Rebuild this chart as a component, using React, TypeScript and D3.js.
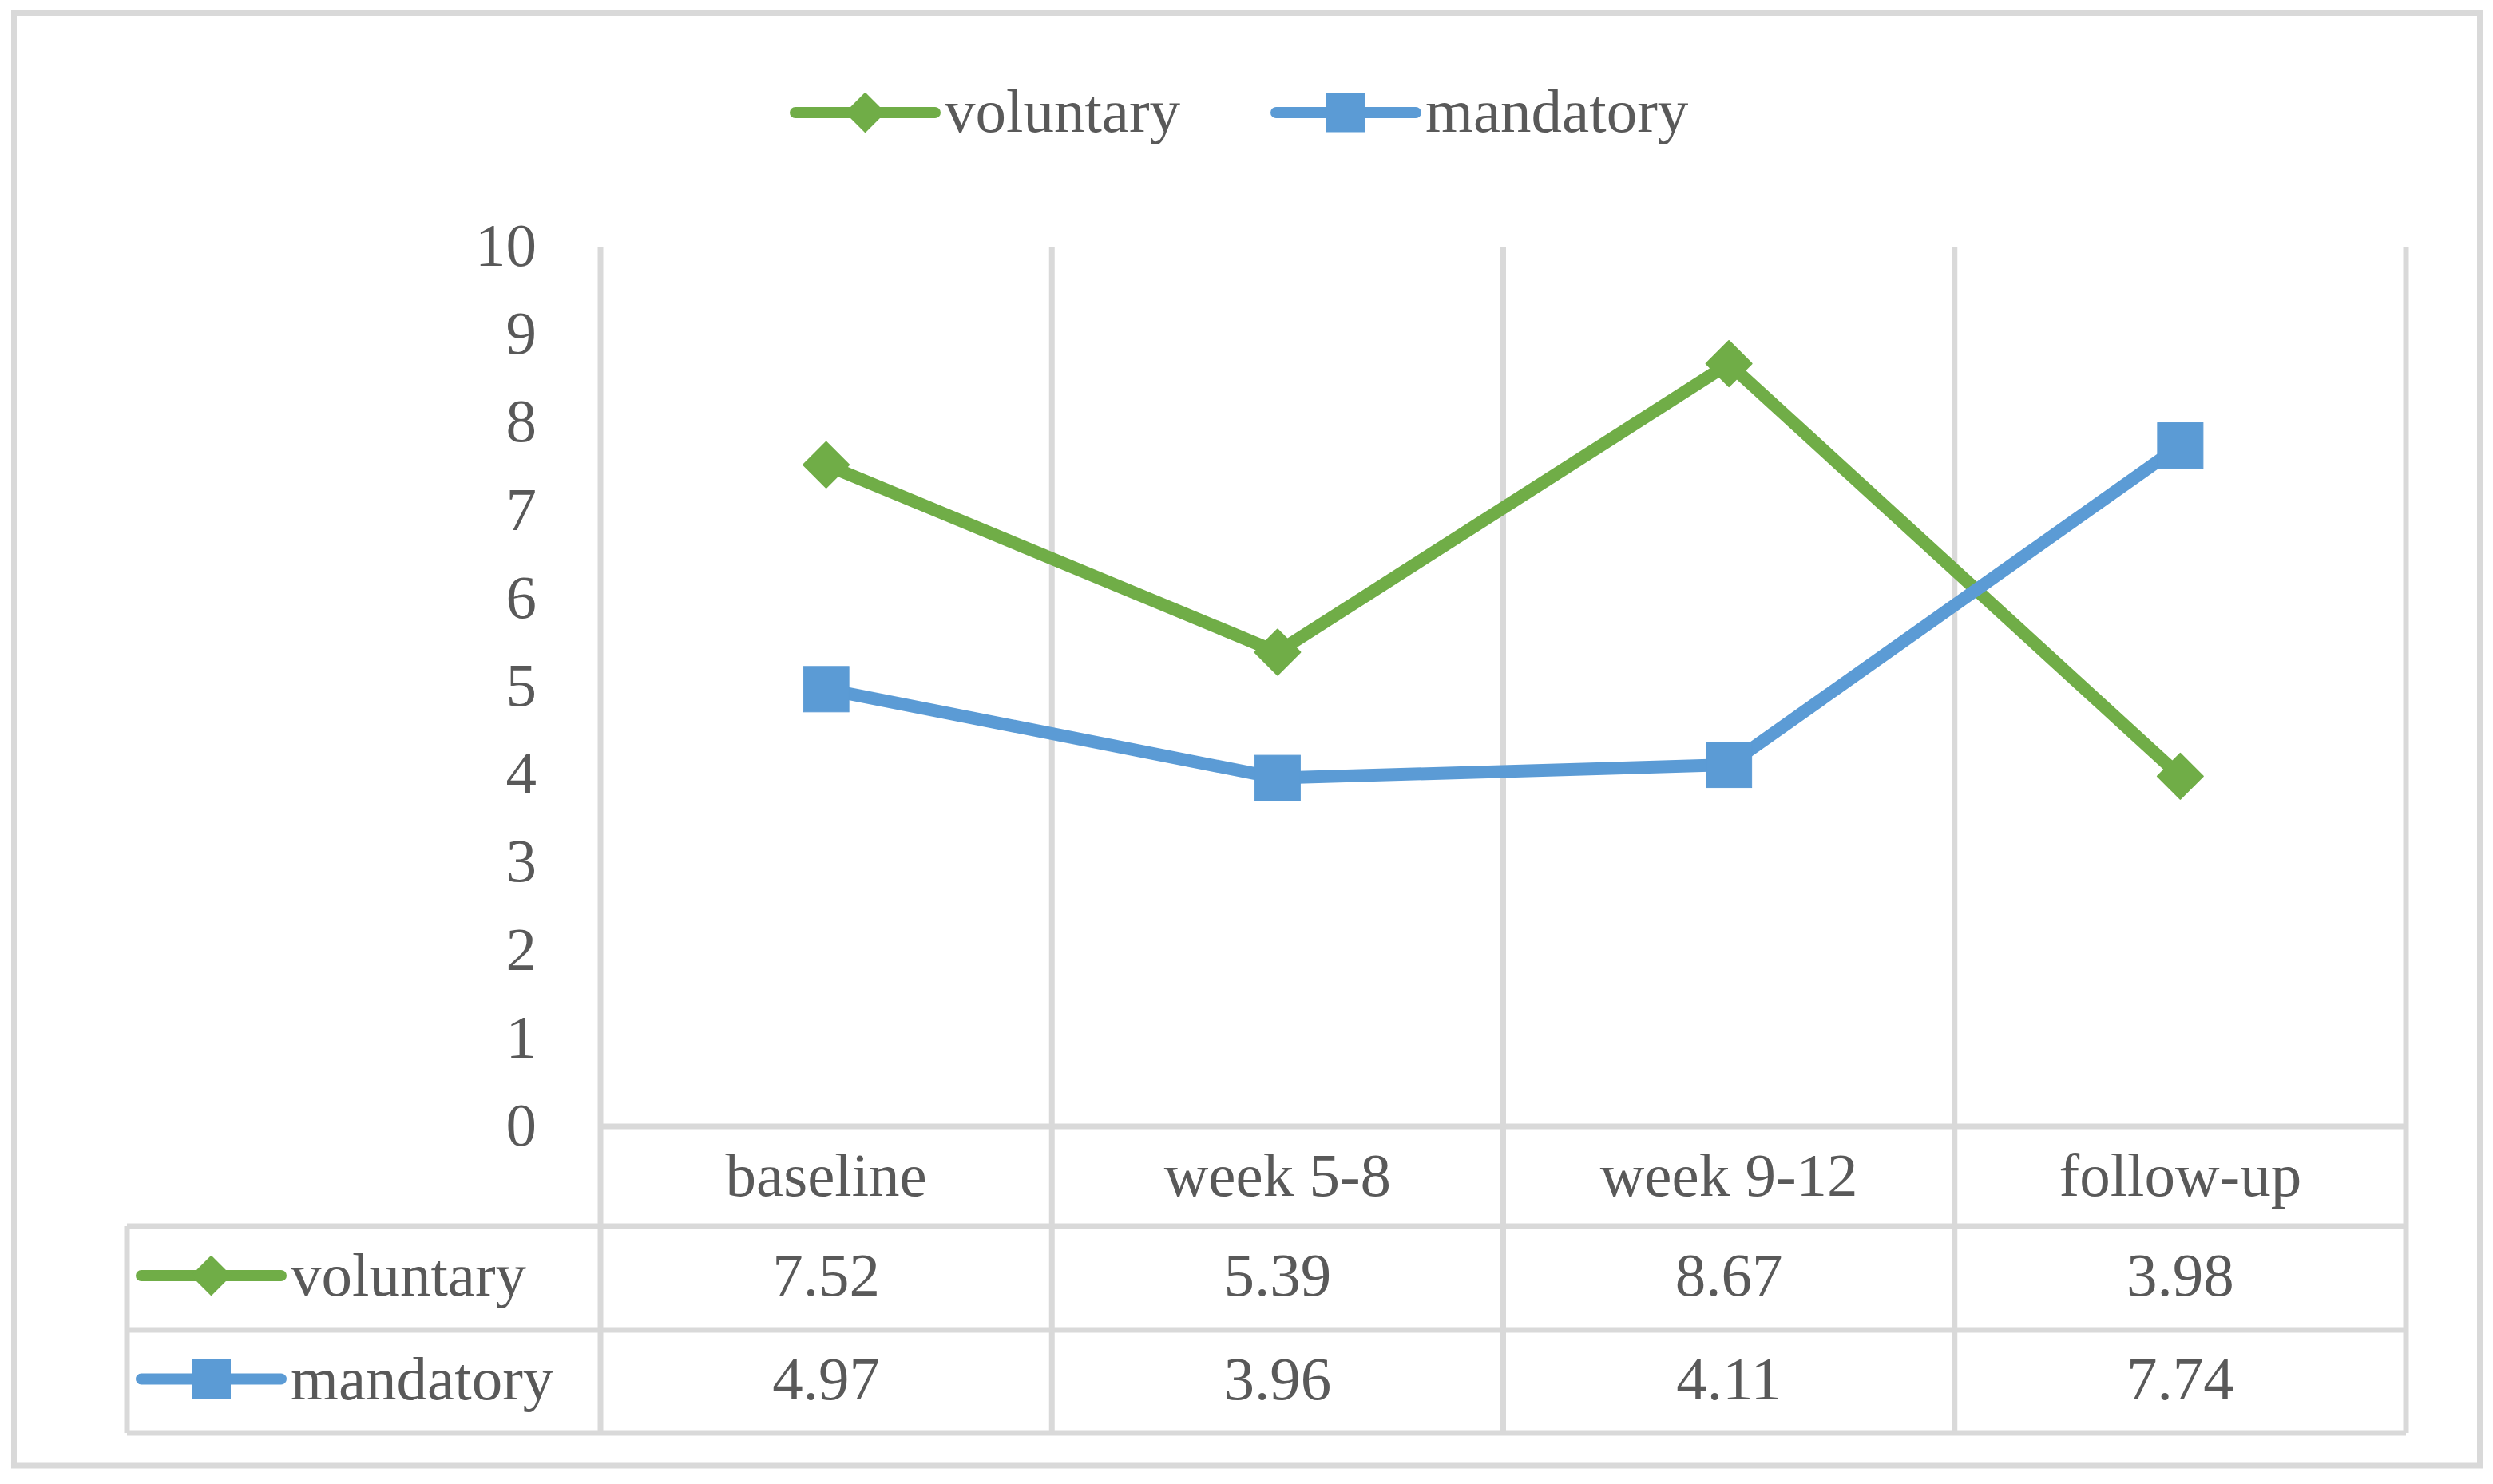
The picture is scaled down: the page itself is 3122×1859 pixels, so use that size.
import React from "react";
import * as d3 from "d3";

const categories = ["baseline", "week 5-8", "week 9-12", "follow-up"];
const voluntary = [7.52, 5.39, 8.67, 3.98];
const mandatory = [4.97, 3.96, 4.11, 7.74];
const yTicks = [0, 1, 2, 3, 4, 5, 6, 7, 8, 9, 10];
const seriesNames = ["voluntary", "mandatory"];
const seriesColors = ["#70AD47", "#5B9BD5"];

const W = 3122;
const H = 1859;
const FONT = "Liberation Serif, DejaVu Serif, serif";
const FS = 77;
const TXT = "#595959";
const GRID = "#D9D9D9";

function Marker({ kind, cx, cy, size, color }: { kind: string; cx: number; cy: number; size: number; color: string }) {
  const h = size / 2;
  if (kind === "diamond") {
    const d = `M${cx},${cy - h}L${cx + h},${cy}L${cx},${cy + h}L${cx - h},${cy}Z`;
    return <path d={d} fill={color} stroke={color} strokeWidth={2} strokeLinejoin="round" />;
  }
  return <rect x={cx - h} y={cy - h} width={size} height={size} fill={color} stroke={color} strokeWidth={1} />;
}

export default function App() {
  const x = d3.scaleBand<string>().domain(categories).range([752, 3013]).padding(0);
  const y = d3.scaleLinear().domain([0, 10]).range([1411, 309]);
  const bw = x.bandwidth();
  const cx = (c: string) => (x(c) as number) + bw / 2;
  const line = d3
    .line<number>()
    .x((_, i) => cx(categories[i]))
    .y((v) => y(v));

  const tableLeft = 159;
  const plotRight = 3013;
  const rowTops = [1536, 1666, 1795];
  const headerCenter = (y(0) + rowTops[0]) / 2;
  const rowCenters = [(rowTops[0] + rowTops[1]) / 2, (rowTops[1] + rowTops[2]) / 2];
  const data = [voluntary, mandatory];
  const kinds = ["diamond", "square"];
  const gridXs = [...categories.map((c) => x(c) as number), plotRight];

  const legendItems = [
    { lineX0: 996, lineX1: 1171, textX: 1183 },
    { lineX0: 1598, lineX1: 1773, textX: 1785 },
  ];
  const legendY = 141;
  const ts = { fontFamily: FONT, fontSize: FS, fill: TXT };

  return (
    <svg
      width={W}
      height={H}
      style={{ position: "absolute", left: 0, top: 0, background: "#fff" }}
    >
      <rect x={0} y={0} width={W} height={H} fill="#fff" />
      <rect x={17.5} y={16.5} width={3088} height={1819.5} fill="none" stroke={GRID} strokeWidth={7} />

      {/* legend */}
      {seriesNames.map((n, i) => {
        const L = legendItems[i];
        return (
          <g key={n}>
            <line x1={L.lineX0} x2={L.lineX1} y1={legendY} y2={legendY} stroke={seriesColors[i]} strokeWidth={14} strokeLinecap="round" />
            <Marker kind={kinds[i]} cx={(L.lineX0 + L.lineX1) / 2} cy={legendY} size={48} color={seriesColors[i]} />
            <text x={L.textX} y={legendY + 24} style={ts}>
              {n}
            </text>
          </g>
        );
      })}

      {/* vertical gridlines */}
      {gridXs.map((gx, i) => (
        <line key={"g" + i} x1={gx} x2={gx} y1={y(10)} y2={rowTops[2]} stroke={GRID} strokeWidth={7} />
      ))}
      {/* axis line */}
      <line x1={gridXs[0]} x2={plotRight} y1={y(0)} y2={y(0)} stroke={GRID} strokeWidth={7} />
      {/* table lines */}
      {rowTops.map((ry, i) => (
        <line key={"r" + i} x1={tableLeft} x2={plotRight} y1={ry} y2={ry} stroke={GRID} strokeWidth={7} />
      ))}
      <line x1={tableLeft} x2={tableLeft} y1={rowTops[0]} y2={rowTops[2]} stroke={GRID} strokeWidth={7} />

      {/* y tick labels */}
      {yTicks.map((t) => (
        <text key={"t" + t} x={672} y={y(t) + 24} style={ts} textAnchor="end">
          {t}
        </text>
      ))}

      {/* category labels */}
      {categories.map((c) => (
        <text key={"c" + c} x={cx(c)} y={headerCenter + 24} style={ts} textAnchor="middle">
          {c}
        </text>
      ))}

      {/* table rows */}
      {data.map((vals, si) => (
        <g key={"row" + si}>
          <line x1={177} x2={352} y1={rowCenters[si] - 3} y2={rowCenters[si] - 3} stroke={seriesColors[si]} strokeWidth={14} strokeLinecap="round" />
          <Marker kind={kinds[si]} cx={264.5} cy={rowCenters[si] - 3} size={48} color={seriesColors[si]} />
          <text x={364} y={rowCenters[si] + 22} style={ts}>
            {seriesNames[si]}
          </text>
          {vals.map((v, i) => (
            <text key={i} x={cx(categories[i])} y={rowCenters[si] + 22} style={ts} textAnchor="middle">
              {v.toFixed(2)}
            </text>
          ))}
        </g>
      ))}

      {/* series */}
      {data.map((vals, si) => (
        <g key={"s" + si}>
          <path d={line(vals) || ""} fill="none" stroke={seriesColors[si]} strokeWidth={16} strokeLinejoin="round" strokeLinecap="round" />
          {vals.map((v, i) => (
            <Marker key={i} kind={kinds[si]} cx={cx(categories[i])} cy={y(v)} size={57} color={seriesColors[si]} />
          ))}
        </g>
      ))}
    </svg>
  );
}
